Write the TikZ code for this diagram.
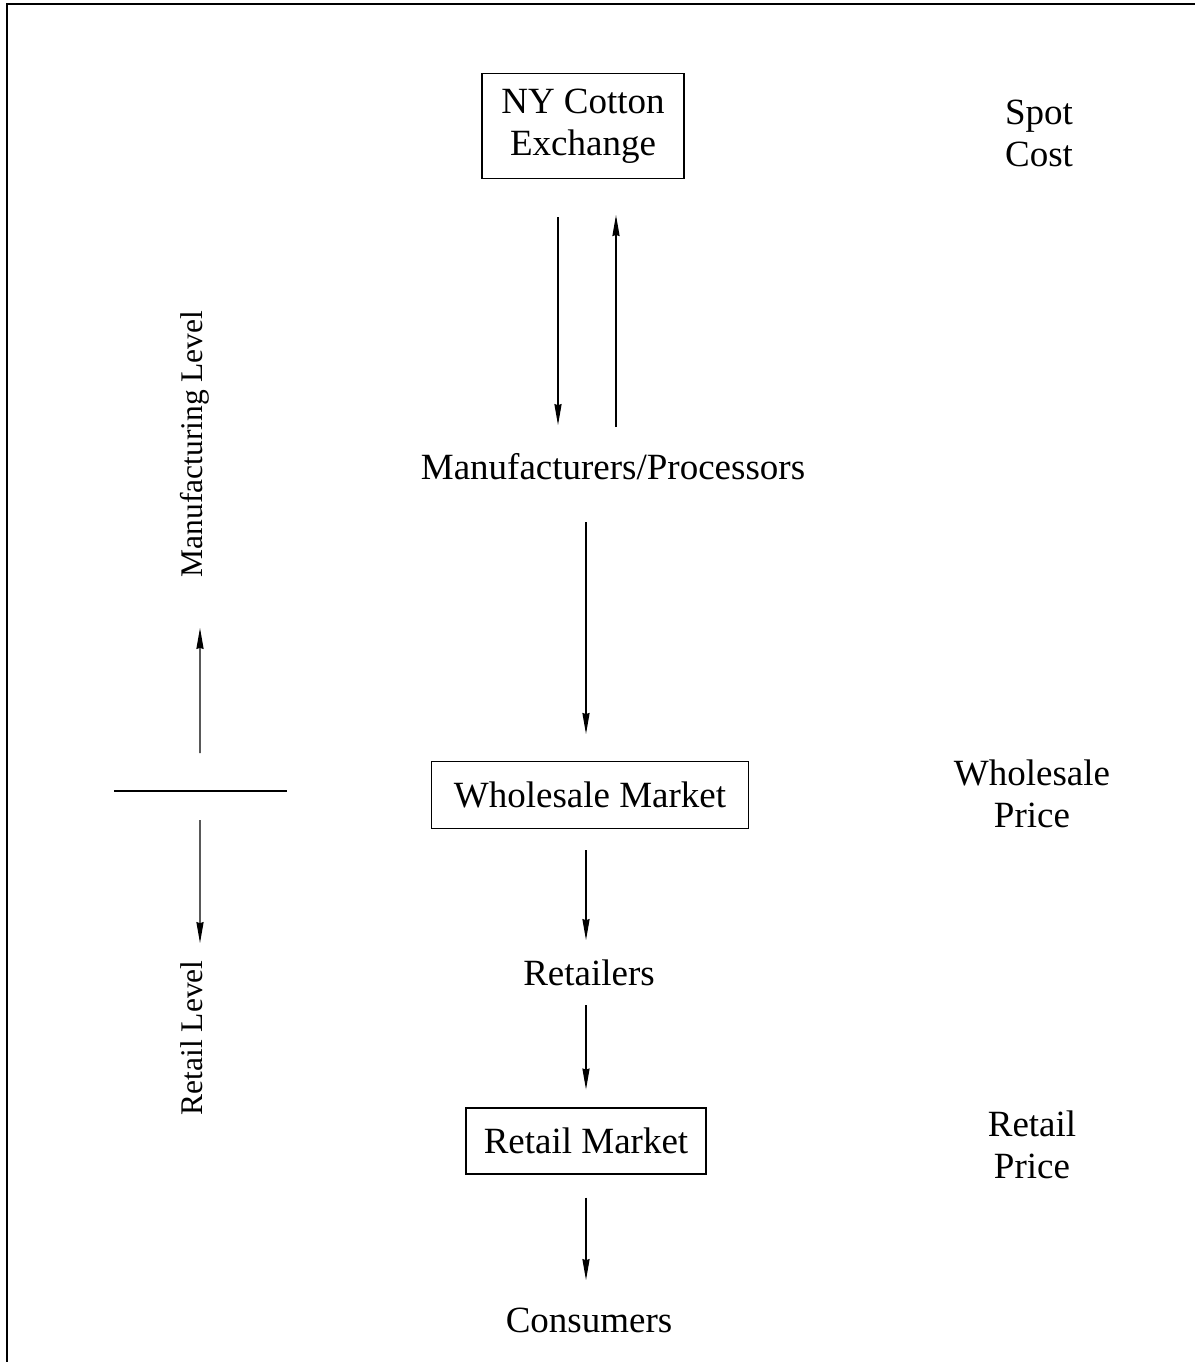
\documentclass[tikz,border=0pt]{standalone}
\usepackage{fontspec}
\setmainfont{Liberation Serif}
\usetikzlibrary{arrows.meta,calc}
\begin{document}
\begin{tikzpicture}[x=0.5pt,y=-0.5pt,
  lbl/.style={inner sep=0pt,font=\fontsize{18.5}{21}\selectfont,align=center},
  boxed/.style={lbl,draw,line width=0.6pt},
  side/.style={inner sep=0pt,font=\fontsize{15.75}{18}\selectfont,rotate=90},
  arr/.style={line width=0.55pt,-{Stealth[length=10.5pt,width=3.6pt,inset=0.6pt]}},
  plain/.style={line width=0.55pt}]
\useasboundingbox (0,0) rectangle (1195,1362);
\draw[line width=0.8pt] (7,1362) -- (7,4) -- (1195,4);

\node[boxed,minimum width=101pt,minimum height=52.5pt] (ny) at (583,126) {NY Cotton\\Exchange};
\node[lbl] (spot) at (1039,133) {Spot\\Cost};
\node[lbl] (mfr) at (613,467) {Manufacturers/Processors};
\node[boxed,minimum width=158.5pt,minimum height=33.5pt] (wm) at (590,795) {Wholesale Market};
\node[lbl] (wp) at (1032,794) {Wholesale\\Price};
\node[lbl] (ret) at (589,973) {Retailers};
\node[boxed,minimum width=120pt,minimum height=33pt] (rm) at (586,1141) {Retail Market};
\node[lbl] (rp) at (1032,1145) {Retail\\Price};
\node[lbl] (con) at (589,1320) {Consumers};

\node[side] (ml) at (195,444) {Manufacturing Level};
\node[side,anchor=east] (rl) at (192,960) {Retail Level};
\coordinate (divL) at (114,791);
\coordinate (divR) at (287,791);
\draw[plain] (divL) -- (divR);

% main flow
\draw[arr] ($(ny.south)+(-25,38)$) -- ($(mfr.center)+(-55,-42)$);
\draw[arr] ($(mfr.center)+(3,-40)$) -- ($(ny.south)+(33,36)$);
\draw[arr] ($(mfr.center)+(-27,55)$) -- ($(wm.north)+(-4,-27)$);
\draw[arr] ($(wm.south)+(-4,21)$) -- ($(ret.center)+(-3,-33)$);
\draw[arr] ($(ret.center)+(-3,32)$) -- ($(rm.north)+(0,-18)$);
\draw[arr] ($(rm.south)+(0,23)$) -- ($(con.center)+(-3,-40)$);

% level arrows
\draw[arr] ($(divL)!0.497!(divR)+(0,-38)$) -- ($(ml.center)+(5,184)$);
\draw[arr] ($(divL)!0.497!(divR)+(0,29)$) -- ($(rl.east)+(8,-17)$);
\end{tikzpicture}
\end{document}
